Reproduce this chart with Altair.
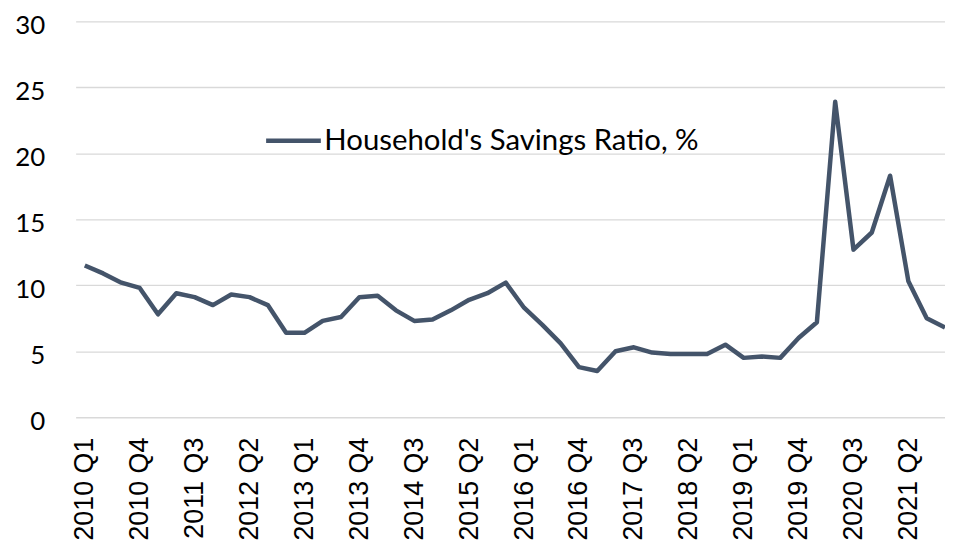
import altair as alt
import pandas as pd

years = list(range(2010, 2022))
quarters = [f"{y} Q{q}" for y in years for q in range(1, 5)]
savings_ratio = [
    11.5, 10.9, 10.2, 9.8, 7.8, 9.4, 9.1, 8.5,
    9.3, 9.1, 8.5, 6.4, 6.4, 7.3, 7.6, 9.1,
    9.2, 8.1, 7.3, 7.4, 8.1, 8.9, 9.4, 10.2,
    8.3, 7.0, 5.6, 3.8, 3.5, 5.0, 5.3, 4.9,
    4.8, 4.8, 4.8, 5.5, 4.5, 4.6, 4.5, 6.0,
    7.2, 23.9, 12.7, 14.0, 18.3, 10.3, 7.5, 6.8,
]
tick_positions = list(range(0, len(quarters), 3))
y_ticks = [0, 5, 10, 15, 20, 25, 30]
series_name = "Household's Savings Ratio, %"

df = pd.DataFrame({
    "idx": list(range(len(quarters))),
    "quarter": quarters,
    "ratio": savings_ratio,
    "series": [series_name] * len(quarters),
})

label_array = "[" + ",".join("'" + q + "'" for q in quarters) + "]"

chart = alt.Chart(df).mark_line(strokeWidth=4.5, strokeJoin="round").encode(
    x=alt.X(
        "idx:Q",
        scale=alt.Scale(domain=[-0.5, len(quarters) - 1], nice=False, zero=False),
        axis=alt.Axis(
            values=tick_positions,
            labelExpr=label_array + "[datum.value]",
            labelAngle=-90,
            grid=False,
            domain=False,
            ticks=False,
            labelFont="Liberation Sans",
            labelFontSize=27,
            labelColor="black",
            labelPadding=20,
            labelOverlap=False,
            labelFlush=False,
        ),
        title=None,
    ),
    y=alt.Y(
        "ratio:Q",
        scale=alt.Scale(domain=[0, 30], nice=False),
        axis=alt.Axis(
            values=y_ticks,
            grid=True,
            gridColor="#D9D9D9",
            gridWidth=1.3,
            domain=False,
            ticks=False,
            labelFont="Lato",
            labelFontSize=26,
            labelColor="black",
            labelPadding=31,
            labelOffset=4,
        ),
        title=None,
    ),
    color=alt.Color(
        "series:N",
        scale=alt.Scale(range=["#44546A"]),
        legend=alt.Legend(
            title=None,
            orient="none",
            legendX=189,
            legendY=90,
            padding=0,
            symbolType="stroke",
            symbolSize=3025,
            symbolStrokeWidth=4.5,
            labelFont="Lato",
            labelFontSize=29.5,
            labelColor="black",
            labelOffset=1,
            labelLimit=0,
        ),
    ),
).properties(
    width=874,
    height=398,
    autosize=alt.AutoSizeParams(type="none"),
    padding={"left": 68, "top": 12, "right": 0, "bottom": 124},
).configure_view(stroke=None)

chart.save("out.html", embed_options={"renderer": "svg", "actions": False})
